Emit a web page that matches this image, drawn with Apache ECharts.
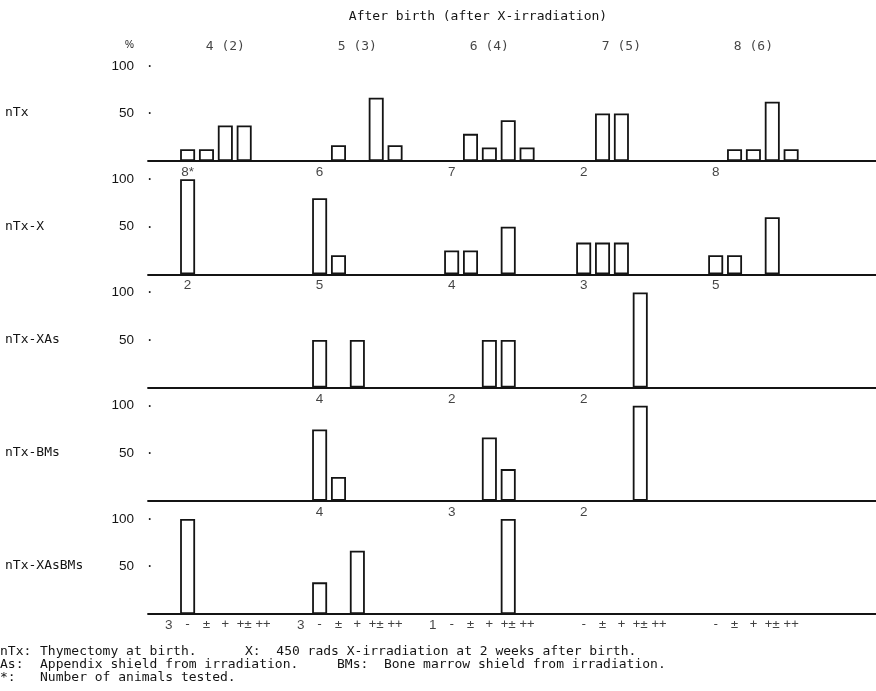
<!DOCTYPE html>
<html>
<head>
<meta charset="utf-8">
<title>After birth (after X-irradiation)</title>
<script src="https://cdn.jsdelivr.net/npm/echarts@6/dist/echarts.min.js"></script>
<style>
  html, body { margin: 0; padding: 0; background: #fff; }
  #chart { width: 876px; height: 691px; }
</style>
</head>
<body>
<div id="chart"></div>
<script>
// weeks after birth (weeks after X-irradiation)
const weeks = ['4 (2)', '5 (3)', '6 (4)', '7 (5)', '8 (6)']
const grades = ['-', '±', '+', '+±', '++']
const groups = ['nTx', 'nTx-X', 'nTx-XAs', 'nTx-BMs', 'nTx-XAsBMs']

// % of animals per grade, one inner array per week (null = not tested)
const nTx = [
  [12.5, 12.5, 37.5, 37.5, 0],
  [0, 16.7, 0, 66.7, 16.7],
  [0, 28.6, 14.3, 42.9, 14.3],
  [0, 50, 50, 0, 0],
  [0, 12.5, 12.5, 62.5, 12.5]
]
const nTxX = [
  [100, 0, 0, 0, 0],
  [80, 20, 0, 0, 0],
  [25, 25, 0, 50, 0],
  [33.3, 33.3, 33.3, 0, 0],
  [20, 20, 0, 60, 0]
]
const nTxXAs = [
  null,
  [50, 0, 50, 0, 0],
  [0, 0, 50, 50, 0],
  [0, 0, 0, 100, 0],
  null
]
const nTxBMs = [
  null,
  [75, 25, 0, 0, 0],
  [0, 0, 66.7, 33.3, 0],
  [0, 0, 0, 100, 0],
  null
]
const nTxXAsBMs = [
  [100, 0, 0, 0, 0],
  [33.3, 0, 66.7, 0, 0],
  [0, 0, 0, 100, 0],
  null,
  null
]
const percents = [nTx, nTxX, nTxXAs, nTxBMs, nTxXAsBMs]

// number of animals tested
const countsNTx = [8, 6, 7, 2, 8]
const countsNTxX = [2, 5, 4, 3, 5]
const countsNTxXAs = [null, 4, 2, 2, null]
const countsNTxBMs = [null, 4, 3, 2, null]
const countsNTxXAsBMs = [3, 3, 1, null, null]
const counts = [countsNTx, countsNTxX, countsNTxXAs, countsNTxBMs, countsNTxXAsBMs]

const yTicks = [0, 50, 100]

// footnote lines: [key, text, second key + text]
const footnotes = [
  ['nTx:', 'Thymectomy at birth.', 'X:  450 rads X-irradiation at 2 weeks after birth.'],
  ['As:', 'Appendix shield from irradiation.', 'BMs:  Bone marrow shield from irradiation.'],
  ['*:', 'Number of animals tested.', '']
]

const mono = '"DejaVu Sans Mono", "Liberation Mono", monospace'
const sans = '"Liberation Sans", Arial, sans-serif'
const ink = '#141414'

const slotsPerWeek = 7
const gridLeft = 148
const top0 = 66
const rowGap = 113.25
const plotH = 95

const chart = echarts.init(document.getElementById('chart'))

const grids = [], xAxes = [], yAxes = [], series = []
const last = groups.length - 1

groups.forEach((g, r) => {
  grids.push({ left: gridLeft, right: 0, top: top0 + r * rowGap, height: plotH })
  xAxes.push({
    gridIndex: r, type: 'value', min: -2.1, max: 36.5,
    axisLine: { show: true, lineStyle: { color: ink, width: 1.8 } },
    axisTick: { show: false }, axisLabel: { show: false }, splitLine: { show: false }
  })
  yAxes.push({
    gridIndex: r, type: 'value', min: yTicks[0], max: yTicks[2], interval: yTicks[1],
    axisLine: { show: false }, axisTick: { show: false }, splitLine: { show: false },
    axisLabel: {
      margin: -3,
      formatter: v => v === 0 ? '' : `{n|${v}}{d|•}`,
      rich: {
        n: { fontFamily: sans, fontSize: 13.5, color: ink },
        d: { fontSize: 7, color: ink, width: 17, align: 'right' }
      }
    }
  })

  const bars = []
  percents[r].forEach((wk, w) => {
    if (!wk) return
    wk.forEach((v, s) => { if (v > 0) bars.push([w * slotsPerWeek + s, v]) })
  })
  series.push({
    type: 'bar', xAxisIndex: r, yAxisIndex: r, data: bars, barWidth: 15,
    itemStyle: { color: '#fff', borderColor: ink, borderWidth: 1.8 },
    silent: true
  })

  // animals tested, under the baseline
  const cnt = []
  counts[r].forEach((n, w) => {
    if (n == null) return
    const x = w * slotsPerWeek + (r === last ? -1 : 0)
    cnt.push({ name: r === 0 && w === 0 ? n + '*' : String(n), value: [x, 0] })
  })
  series.push({
    type: 'scatter', xAxisIndex: r, yAxisIndex: r, data: cnt, symbolSize: 1,
    itemStyle: { color: 'transparent' }, silent: true,
    label: { show: true, position: 'bottom', distance: 4, formatter: '{b}',
      fontFamily: sans, fontSize: 13.5, color: ink }
  })
})

// week headers over the first row
series.push({
  type: 'scatter', xAxisIndex: 0, yAxisIndex: 0, symbolSize: 1,
  itemStyle: { color: 'transparent' }, silent: true,
  data: weeks.map((w, i) => ({ name: w, value: [i * slotsPerWeek + 2, 100] })),
  label: { show: true, position: 'top', distance: 12, formatter: '{b}',
    fontFamily: mono, fontSize: 13, color: ink }
})

// grade labels under the last row
const gradeData = []
weeks.forEach((w, i) => grades.forEach((g, s) => gradeData.push({ name: g, value: [i * slotsPerWeek + s, 0] })))
series.push({
  type: 'scatter', xAxisIndex: last, yAxisIndex: last, symbolSize: 1,
  itemStyle: { color: 'transparent' }, silent: true, data: gradeData,
  label: { show: true, position: 'bottom', distance: 4, formatter: '{b}',
    fontFamily: mono, fontSize: 12.5, color: ink }
})

const graphics = [
  { type: 'text', x: 478, y: 10,
    style: { text: 'After birth (after X-irradiation)', font: `13px ${mono}`, fill: ink, align: 'center' } },
  { type: 'text', x: 125, y: 40, style: { text: '%', font: `10px ${sans}`, fill: ink } }
]
footnotes.forEach((f, i) => {
  const y = 645 + i * 13
  graphics.push(
    { type: 'text', x: 0, y, style: { text: f[0], font: `13px ${mono}`, fill: ink } },
    { type: 'text', x: 40, y, style: { text: f[1], font: `13px ${mono}`, fill: ink } },
    { type: 'text', x: i === 0 ? 245 : 337, y, style: { text: f[2], font: `13px ${mono}`, fill: ink } }
  )
})
groups.forEach((g, r) => graphics.push({
  type: 'text', x: 5, y: top0 + r * rowGap + plotH / 2 - 7,
  style: { text: g, font: `13px ${mono}`, fill: ink }
}))

chart.setOption({
  animation: false,
  backgroundColor: '#fff',
  grid: grids,
  xAxis: xAxes,
  yAxis: yAxes,
  series,
  graphic: graphics
})

window.addEventListener('resize', () => chart.resize())
</script>
</body>
</html>
